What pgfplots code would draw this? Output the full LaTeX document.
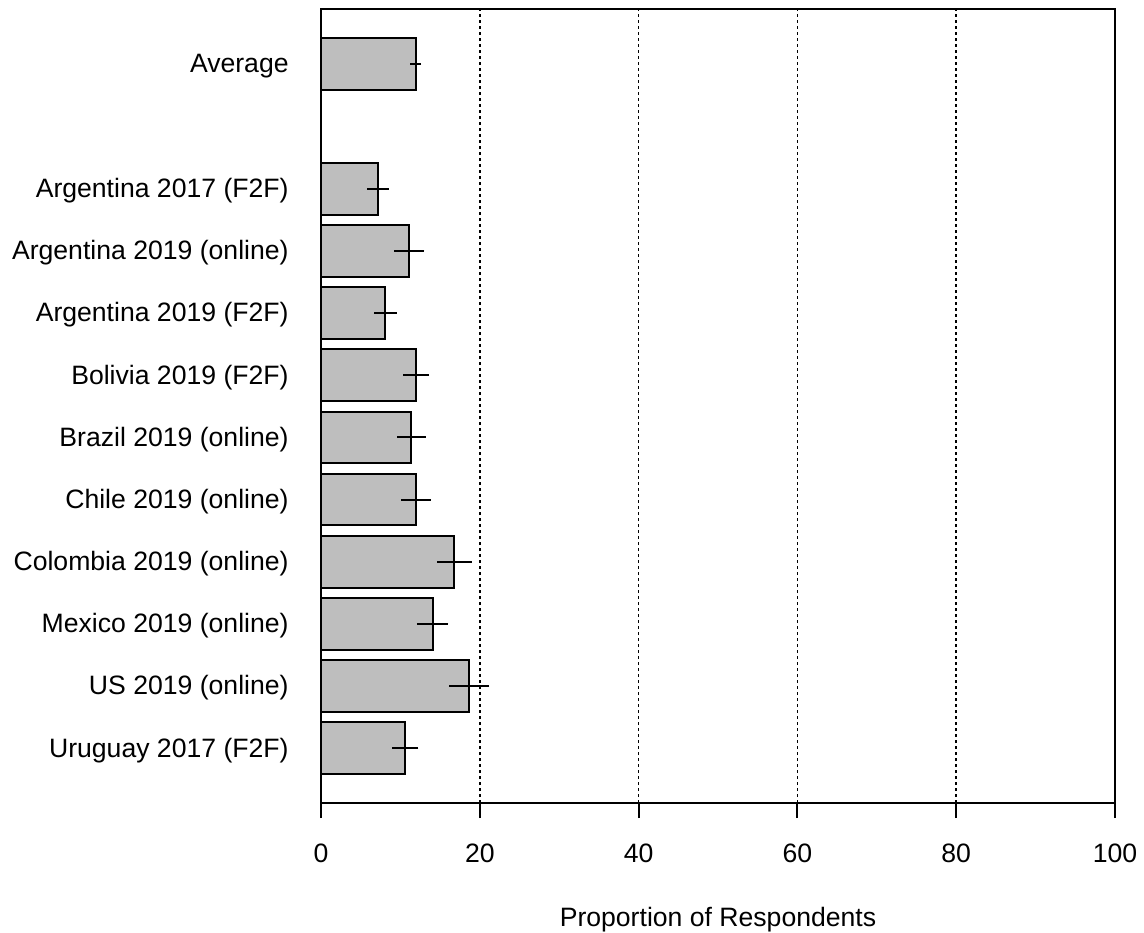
\documentclass[border=0pt]{standalone}
\usepackage{fontspec}
\setmainfont{Liberation Sans}
\usepackage{pgfplots}
\pgfplotsset{compat=1.18}
\usepackage{pgfplotstable}
\definecolor{rgray}{HTML}{BEBEBE}
\pgfplotstableread{
y val err
12 11.93 0.67
10 7.18 1.36
9 11.12 1.91
8 8.10 1.45
7 12.00 1.61
6 11.38 1.80
5 12.00 1.87
4 16.80 2.16
3 14.06 1.98
2 18.64 2.52
1 10.62 1.64
}\datatable
\begin{document}
\begin{tikzpicture}[font=\fontsize{13.3}{16}\selectfont]
\useasboundingbox (0,0) rectangle (572pt,466pt);
\begin{axis}[
  at={(160.5pt,64.5pt)}, anchor=south west,
  scale only axis, width=397pt, height=397pt,
  xmin=0, xmax=100, ymin=0.12, ymax=12.89,
  xbar, bar width=0.833,
  xtick={0,20,40,60,80,100},
  ytick={1,2,3,4,5,6,7,8,9,10,12},
  yticklabels={Uruguay 2017 (F2F), US 2019 (online), Mexico 2019 (online), Colombia 2019 (online), Chile 2019 (online), Brazil 2019 (online), Bolivia 2019 (F2F), Argentina 2019 (F2F), Argentina 2019 (online), Argentina 2017 (F2F), Average},
  tick align=outside, major tick length=7.5pt,
  xtick pos=left, ytick pos=left,
  ytick style={draw=none},
  xtick style={line width=1pt, black},
  axis line style={line width=1pt, black},
  xmajorgrids,
  grid style={dash pattern=on 1.5pt off 1.5pt, line width=0.8pt, black},
  /pgf/number format/assume math mode=true,
  xticklabel style={anchor=base, inner sep=0pt, yshift=-22pt, font=\fontsize{13.3}{16}\selectfont},
  yticklabel style={anchor=east, inner sep=0pt, xshift=-8.5pt, yshift=-1pt, font=\fontsize{13.3}{16}\selectfont},
  xlabel={Proportion of Respondents},
  xlabel style={at={(rel axis cs:0.5,0)}, anchor=base, yshift=-61.5pt, inner sep=0pt, font=\fontsize{13.3}{16}\selectfont},
]
\addplot[fill=rgray, draw=black, line width=1pt,
  error bars/.cd, x dir=both, x explicit, error mark=none,
  error bar style={line width=1pt, black}]
  table[x=val, y=y, x error=err] \datatable;
\end{axis}
\end{tikzpicture}
\end{document}
